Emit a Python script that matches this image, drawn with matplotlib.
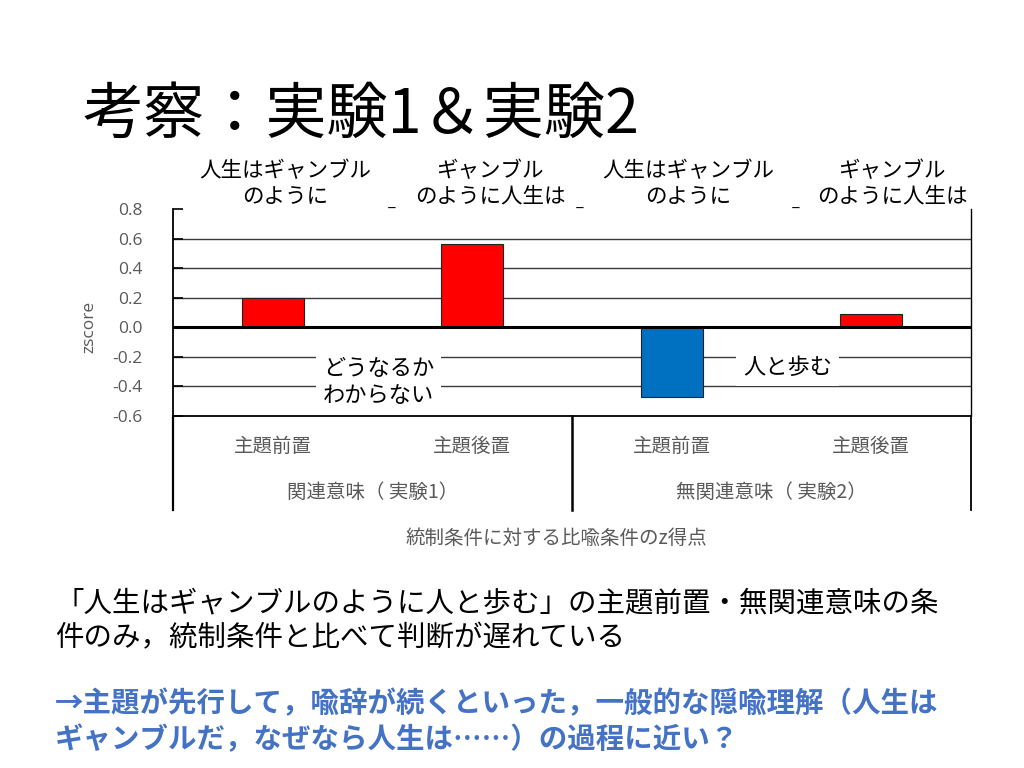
import matplotlib
matplotlib.use("Agg")
import matplotlib.pyplot as plt
import matplotlib.transforms as mtransforms

plt.rcParams['font.family'] = ['Noto Sans CJK JP', 'DejaVu Sans']

# ---- data ----
categories = ["主題前置", "主題後置", "主題前置", "主題後置"]
groups = ["関連意味（ 実験1）", "無関連意味（ 実験2）"]
values = [0.20, 0.56, -0.47, 0.09]
bar_colors = ["#FF0000", "#FF0000", "#0070C0", "#FF0000"]
top_labels = ["人生はギャンブル\nのように", "ギャンブル\nのように人生は",
              "人生はギャンブル\nのように", "ギャンブル\nのように人生は"]
yticks = [-0.6, -0.4, -0.2, 0.0, 0.2, 0.4, 0.6, 0.8]
title = "考察：実験1＆実験2"
xlabel = "統制条件に対する比喩条件のz得点"
ylabel = "zscore"
note1 = "「人生はギャンブルのように人と歩む」の主題前置・無関連意味の条\n件のみ，統制条件と比べて判断が遅れている"
note2 = "→主題が先行して，喩辞が続くといった，一般的な隠喩理解（人生は\nギャンブルだ，なぜなら人生は……）の過程に近い？"

W, H = 1024, 768
fig = plt.figure(figsize=(W / 100, H / 100), dpi=100)

def fx(px):
    return px / W

def fy(py):
    return 1 - py / H

ax = fig.add_axes([fx(173), fy(416), fx(971) - fx(173), fy(209) - fy(416)])
x = list(range(len(values)))
ax.bar(x, values, width=0.31, color=bar_colors, edgecolor="#222222", linewidth=0.8, zorder=3)
ax.set_xlim(-0.5, 3.5)
ax.set_ylim(-0.6, 0.8)
ax.set_yticks(yticks)
ax.set_yticklabels([f"{v:.1f}" for v in yticks], color="#595959", fontsize=12.5,
                   family=['Open Sans', 'DejaVu Sans'])
ax.tick_params(axis='y', direction='in', length=7, width=1.2, color="black", pad=22)
ax.set_xticks([])
for v in yticks[1:-1]:
    ax.axhline(v, color="#3a3a3a", linewidth=1.0, zorder=1)
ax.axhline(0.0, color="black", linewidth=2.2, zorder=4)
ax.spines["top"].set_visible(False)
ax.spines["left"].set_linewidth(1.3)
ax.spines["right"].set_linewidth(1.0)
ax.spines["bottom"].set_linewidth(1.3)

ax.set_ylabel(ylabel, color="#595959", fontsize=12.5, family=['Open Sans', 'DejaVu Sans'])
ax.yaxis.set_label_coords(-0.095, 0.43)

# category table below axes
trans = mtransforms.blended_transform_factory(ax.transData, ax.transAxes)
table_bottom = -(510 - 416) / (416 - 209)
for xv, lw in [(-0.5, 1.6), (1.5, 1.8), (3.5, 1.3)]:
    ax.plot([xv, xv], [0, table_bottom], transform=trans, color="black", lw=lw, clip_on=False)
cat_y = -(446 - 416) / (416 - 209)
for xi, c in zip(x, categories):
    ax.text(xi, cat_y, c, transform=trans, ha="center", va="center", fontsize=14, color="#595959")
grp_y = -(492 - 416) / (416 - 209)
ax.text(0.5, grp_y, groups[0], transform=trans, ha="center", va="center", fontsize=14, color="#595959")
ax.text(2.5, grp_y, groups[1], transform=trans, ha="center", va="center", fontsize=14, color="#595959")

fig.text(fx(556), fy(538), xlabel, ha="center", va="center", fontsize=14, color="#595959")

# top labels
top_x = [285, 490, 688, 892]
for px, lab in zip(top_x, top_labels):
    fig.text(fx(px), fy(184), lab, ha="center", va="center", fontsize=15.5, color="black",
             linespacing=1.2)
for px in [392, 580, 796]:
    fig.text(fx(px), fy(203), "_", ha="center", va="center", fontsize=10, color="black")

# in-plot annotations
ax.text(0.53, -0.37, "どうなるか\nわからない", ha="center", va="center", fontsize=16,
        color="black", linespacing=1.25, zorder=5,
        bbox=dict(facecolor="white", edgecolor="none", pad=5))
ax.text(2.58, -0.27, "人と歩む", ha="center", va="center", fontsize=16,
        color="black", zorder=5, bbox=dict(facecolor="white", edgecolor="none", pad=5))

# title and notes
fig.text(fx(83), fy(116), title, ha="left", va="center", fontsize=44, color="black")
fig.text(fx(55), fy(621), note1, ha="left", va="center", fontsize=20.5, color="black",
         linespacing=1.2)
fig.text(fx(55), fy(722), note2, ha="left", va="center", fontsize=20.5, color="#4472C4",
         fontweight="bold", linespacing=1.35)

fig.savefig("out.png", dpi=100, facecolor="white")
